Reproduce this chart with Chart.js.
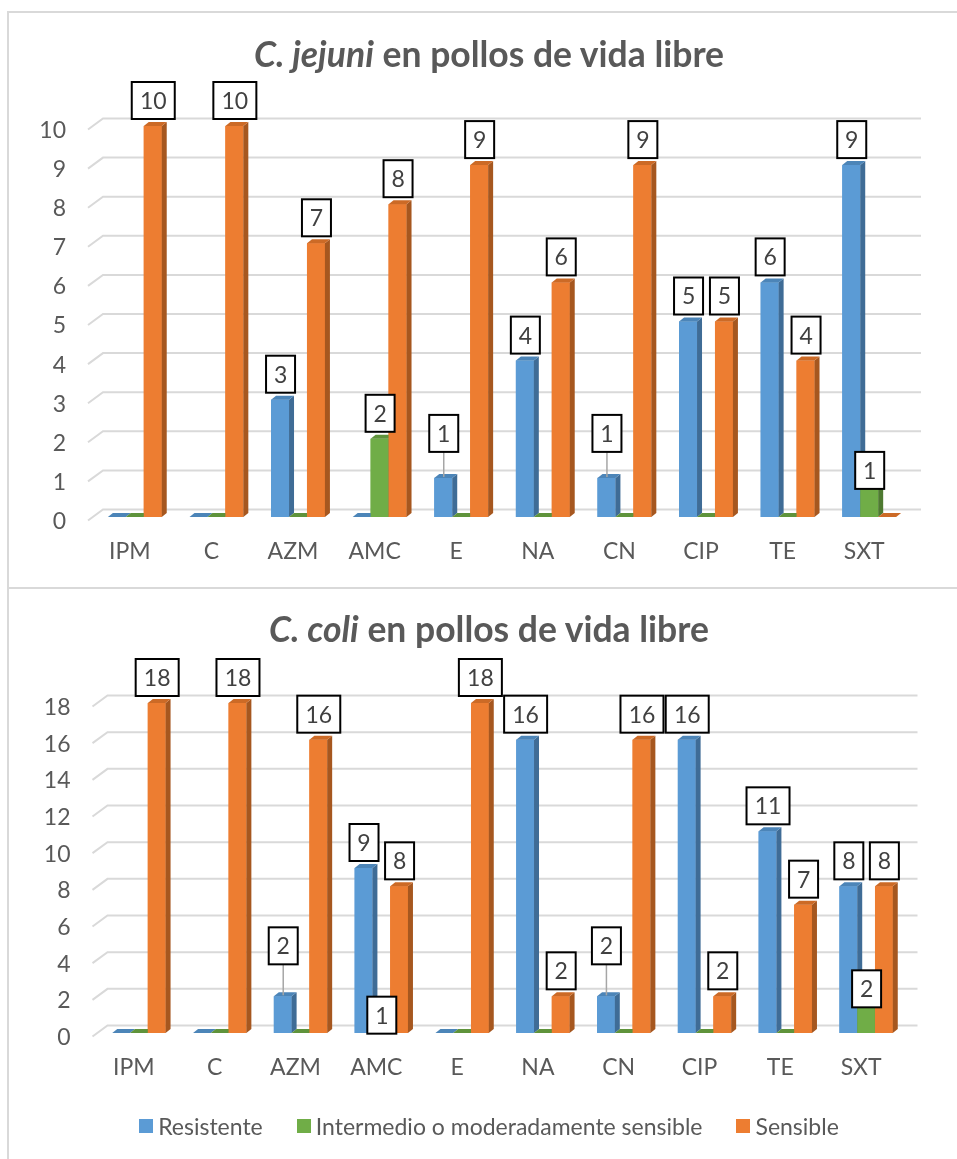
<!DOCTYPE html>
<html>
<head>
<meta charset="utf-8">
<script src="https://cdn.jsdelivr.net/npm/chart.js@4.4.1/dist/chart.umd.min.js"></script>
<style>
  html, body { margin: 0; padding: 0; background: #fff; }
  body { width: 957px; height: 1159px; position: relative; overflow: hidden; font-family: Lato, "Open Sans", sans-serif; }
  .panel { position: absolute; left: 7px; width: 965px; border: 2px solid #d9d9d9; box-sizing: border-box; }
  #panel1 { top: 11px; height: 578px; }
  #panel2 { top: 587px; height: 620px; }
  canvas { position: absolute; left: 0; }
  #c1 { top: 0; }
  #c2 { top: 588px; }
  .title { position: absolute; left: 8px; width: 962px; text-align: center; font-weight: 700;
           font-size: 35.5px; line-height: 32px; color: #595959; white-space: nowrap; }
  #t1 { top: 38px; }
  #t2 { top: 613px; }
  .legend { position: absolute; left: 8px; width: 962px; top: 1112px; display: flex; justify-content: center;
            font-size: 23px; line-height: 28px; color: #595959; white-space: nowrap; }
  .legend span.item { display: flex; align-items: center; margin: 0 17px; }
  .legend span.sw { display: inline-block; width: 14px; height: 14px; margin-right: 5px; }
</style>
</head>
<body>
<div class="panel" id="panel1"></div>
<div class="panel" id="panel2"></div>
<canvas id="c1" width="957" height="588"></canvas>
<canvas id="c2" width="957" height="571"></canvas>
<div class="title" id="t1"><i>C. jejuni</i> en pollos de vida libre</div>
<div class="title" id="t2"><i>C. coli</i> en pollos de vida libre</div>
<div class="legend" id="legend"></div>
<script>
// Antibiotics on the category axis
const categories = ['IPM', 'C', 'AZM', 'AMC', 'E', 'NA', 'CN', 'CIP', 'TE', 'SXT'];
const seriesNames = ['Resistente', 'Intermedio o moderadamente sensible', 'Sensible'];

// C. jejuni counts
const jejuniResistente = [0, 0, 3, 0, 1, 4, 1, 5, 6, 9];
const jejuniIntermedio = [0, 0, 0, 2, 0, 0, 0, 0, 0, 1];
const jejuniSensible   = [10, 10, 7, 8, 9, 6, 9, 5, 4, 0];

// C. coli counts
const coliResistente = [0, 0, 2, 9, 0, 16, 2, 16, 11, 8];
const coliIntermedio = [0, 0, 0, 1, 0, 0, 0, 0, 0, 2];
const coliSensible   = [18, 18, 16, 8, 18, 2, 16, 2, 7, 8];

// Value-axis tick labels
const jejuniTicks = [0, 1, 2, 3, 4, 5, 6, 7, 8, 9, 10];
const coliTicks = [0, 2, 4, 6, 8, 10, 12, 14, 16, 18];

// Series colours: front, side and top faces of the prisms
const faceColors = ['#5B9BD5', '#70AD47', '#ED7D31'];
const sideColors = ['#3F6C96', '#4E7A31', '#A6571F'];
const topColors  = ['#4C85B8', '#5F933B', '#CC6A26'];

// Depth of the prisms and of the floor grid
const DX = 5, DY = 4;
const FONT_SIZE = 23;

Chart.defaults.font.family = 'Lato, "Open Sans", sans-serif';
Chart.defaults.font.size = FONT_SIZE;
Chart.defaults.color = '#595959';

// Floor/back-wall gridlines with a small perspective stub at the left
const gridPlugin = {
  id: 'grid3d',
  beforeDatasetsDraw(chart) {
    const { ctx, chartArea: a, scales: { y } } = chart;
    ctx.save();
    ctx.strokeStyle = '#D9D9D9';
    ctx.lineWidth = 2;
    y.ticks.forEach(t => {
      const py = y.getPixelForValue(t.value);
      ctx.beginPath();
      ctx.moveTo(a.left - 6, py + 3.5);
      ctx.lineTo(a.left + 9, py - 7.5);
      ctx.lineTo(a.right + 11, py - 7.5);
      ctx.stroke();
    });
    ctx.restore();
  }
};

// Prism faces, drawn category by category from left to right
const prismPlugin = {
  id: 'prisms',
  afterDatasetsDraw(chart) {
    const ctx = chart.ctx;
    const metas = chart.data.datasets.map((d, i) => chart.getDatasetMeta(i));
    ctx.save();
    for (let j = 0; j < categories.length; j++) {
      metas.forEach((meta, s) => {
        const el = meta.data[j];
        const { x, y, base, width } = el.getProps(['x', 'y', 'base', 'width'], true);
        const l = x - width / 2, r = x + width / 2;
        const top = Math.min(y, base), bot = Math.max(y, base);
        ctx.fillStyle = faceColors[s];
        ctx.fillRect(l, top, width, bot - top);
        ctx.fillStyle = sideColors[s];
        ctx.beginPath();
        ctx.moveTo(r, top); ctx.lineTo(r + DX, top - DY); ctx.lineTo(r + DX, bot - DY); ctx.lineTo(r, bot);
        ctx.closePath(); ctx.fill();
        ctx.fillStyle = topColors[s];
        ctx.beginPath();
        ctx.moveTo(l, top); ctx.lineTo(l + DX, top - DY); ctx.lineTo(r + DX, top - DY); ctx.lineTo(r, top);
        ctx.closePath(); ctx.fill();
      });
    }
    ctx.restore();
  }
};

// Boxed value labels; labelLift moves individual boxes up (+) or down (-)
const boxLabelPlugin = {
  id: 'boxLabels',
  afterDatasetsDraw(chart, args, opts) {
    const ctx = chart.ctx;
    const lift = opts.lift || {};
    ctx.save();
    ctx.font = FONT_SIZE + 'px ' + Chart.defaults.font.family;
    ctx.textAlign = 'center';
    ctx.textBaseline = 'middle';
    chart.data.datasets.forEach((ds, s) => {
      const meta = chart.getDatasetMeta(s);
      ds.data.forEach((v, j) => {
        if (!v) return;
        const el = meta.data[j];
        const { x, y } = el.getProps(['x', 'y'], true);
        const shift = lift[s + '-' + j] || 0;
        const text = String(v);
        const bw = Math.round(ctx.measureText(text).width) + 16;
        const bh = 37;
        const cx = x + 0.5;
        const bottom = y - 7 - shift;
        const topY = bottom - bh;
        if (shift > 0) {
          ctx.strokeStyle = '#A6A6A6';
          ctx.lineWidth = 1.5;
          ctx.beginPath();
          ctx.moveTo(cx, bottom);
          ctx.lineTo(cx, y - 1);
          ctx.stroke();
        }
        ctx.fillStyle = '#FFFFFF';
        ctx.fillRect(cx - bw / 2, topY, bw, bh);
        ctx.strokeStyle = '#000000';
        ctx.lineWidth = 2;
        ctx.strokeRect(cx - bw / 2, topY, bw, bh);
        ctx.fillStyle = '#404040';
        ctx.fillText(text, cx, topY + bh / 2 + 1);
      });
    });
    ctx.restore();
  }
};

function makeChart(canvasId, series, ticks, layout, lift) {
  const datasets = series.map((data, i) => ({
    label: seriesNames[i],
    data: data,
    backgroundColor: faceColors[i],
    borderWidth: 0,
    categoryPercentage: 0.66,
    barPercentage: 1.0
  }));
  return new Chart(document.getElementById(canvasId), {
    type: 'bar',
    data: { labels: categories, datasets },
    plugins: [gridPlugin, prismPlugin, boxLabelPlugin],
    options: {
      responsive: false,
      animation: false,
      events: [],
      layout: { padding: layout.padding },
      plugins: {
        legend: { display: false },
        tooltip: { enabled: false },
        boxLabels: { lift }
      },
      scales: {
        x: {
          grid: { display: false, drawTicks: false },
          border: { display: false },
          ticks: { padding: 21, labelOffset: -5, color: '#595959', maxRotation: 0, autoSkip: false },
          afterFit(scale) { scale.height = 60; }
        },
        y: {
          min: ticks[0],
          max: ticks[ticks.length - 1],
          grid: { display: false, drawTicks: false },
          border: { display: false },
          ticks: { padding: 28, labelOffset: 4.5, color: '#595959' },
          afterBuildTicks(scale) { scale.ticks = ticks.map(v => ({ value: v })); },
          afterFit(scale) { scale.width = layout.axisWidth; }
        }
      }
    }
  });
}

makeChart('c1', [jejuniResistente, jejuniIntermedio, jejuniSensible], jejuniTicks,
  { axisWidth: 94, padding: { top: 126, right: 47, bottom: 11, left: 0 } },
  { '0-4': 19, '0-6': 19, '1-9': -18 });

makeChart('c2', [coliResistente, coliIntermedio, coliSensible], coliTicks,
  { axisWidth: 98.5, padding: { top: 115, right: 50.5, bottom: 66, left: 0 } },
  { '0-2': 25, '0-6': 25, '1-3': -26, '1-9': -18 });

// Shared legend under the second chart
const legend = document.getElementById('legend');
seriesNames.forEach((name, i) => {
  const item = document.createElement('span');
  item.className = 'item';
  const sw = document.createElement('span');
  sw.className = 'sw';
  sw.style.background = faceColors[i];
  item.appendChild(sw);
  item.appendChild(document.createTextNode(name));
  legend.appendChild(item);
});
</script>
</body>
</html>
